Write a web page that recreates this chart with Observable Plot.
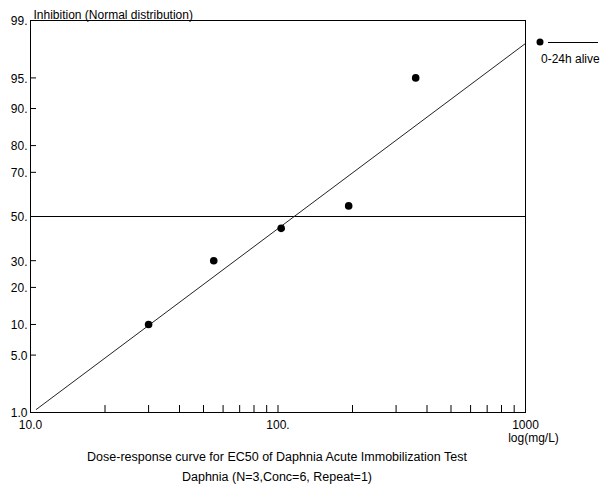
<!DOCTYPE html>
<html><head><meta charset="utf-8">
<script src="https://cdn.jsdelivr.net/npm/d3@7"></script>
<script src="https://cdn.jsdelivr.net/npm/@observablehq/plot@0.6"></script>
<style>
body{margin:0;background:#fff;font-family:"Liberation Sans",Arial,sans-serif;color:#000}
#wrap{position:relative;width:606px;height:486px;overflow:hidden}
#chart{position:absolute;left:0;top:0}
#caption{position:absolute;left:0;top:447px;width:554px;text-align:center;font-size:12.5px;line-height:20px}
#legend{position:absolute;left:530px;top:30px;width:76px;height:45px}
</style></head><body>
<div id="wrap">
  <div id="chart"></div>
  <div id="legend">
    <svg width="76" height="45" style="position:absolute;left:0;top:0">
      <circle cx="10" cy="12" r="3.5" fill="#000"></circle>
      <line x1="18" x2="68" y1="12.5" y2="12.5" stroke="#000" stroke-width="1"></line>
    </svg>
    <div style="position:absolute;left:11px;top:22px;font-size:12px;white-space:nowrap;color:#000">0-24h alive</div>
  </div>
  <div id="caption">Dose-response curve for EC50 of Daphnia Acute Immobilization Test<br>Daphnia (N=3,Conc=6, Repeat=1)</div>
</div>
<script>
// ---- data ----
const conc = [30, 55, 103, 193, 360];
const inhibition = [10, 30, 44.4, 55, 95];
const fitConc = [10.55, 1000];
const fitInhibition = [1.1, 98.0];
const refInhibition = [50];
const yTickValues = [1, 5, 10, 20, 30, 50, 70, 80, 90, 95, 99];
const yTickLabels = ["1.0", "5.0", "10.", "20.", "30.", "50.", "70.", "80.", "90.", "95.", "99."];
const yMarkValues = [5, 10, 20, 30, 70, 80, 90, 95];
const xMarkValues = [20, 30, 40, 50, 60, 70, 80, 90, 100, 200, 300, 400, 500, 600, 700, 800, 900];
const xLabelValues = [10, 100, 1000];
const xLabels = ["10.0", "100.", "1000"];
const seriesName = "0-24h alive";

// inverse normal CDF (percent in, z out)
function probit(pct) {
  const p = pct / 100;
  const a = [-3.969683028665376e+01, 2.209460984245205e+02, -2.759285104469687e+02, 1.383577518672690e+02, -3.066479806614716e+01, 2.506628277459239e+00];
  const b = [-5.447609879822406e+01, 1.615858368580409e+02, -1.556989798598866e+02, 6.680131188771972e+01, -1.328068155288572e+01];
  const c = [-7.784894002430293e-03, -3.223964580411365e-01, -2.400758277161838e+00, -2.549732539343734e+00, 4.374664141464968e+00, 2.938163982698783e+00];
  const d = [7.784695709041462e-03, 3.224671290700398e-01, 2.445134137142996e+00, 3.754408661907416e+00];
  const pl = 0.02425, ph = 1 - pl;
  let q, r;
  if (p < pl) {
    q = Math.sqrt(-2 * Math.log(p));
    return (((((c[0]*q+c[1])*q+c[2])*q+c[3])*q+c[4])*q+c[5]) / ((((d[0]*q+d[1])*q+d[2])*q+d[3])*q+1);
  }
  if (p > ph) {
    q = Math.sqrt(-2 * Math.log(1 - p));
    return -(((((c[0]*q+c[1])*q+c[2])*q+c[3])*q+c[4])*q+c[5]) / ((((d[0]*q+d[1])*q+d[2])*q+d[3])*q+1);
  }
  q = p - 0.5; r = q * q;
  return (((((a[0]*r+a[1])*r+a[2])*r+a[3])*r+a[4])*r+a[5])*q / (((((b[0]*r+b[1])*r+b[2])*r+b[3])*r+b[4])*r+1);
}

const points = conc.map((x, i) => ({conc: x, pct: inhibition[i], series: seriesName}));
const fit = fitConc.map((x, i) => ({conc: x, pct: fitInhibition[i]}));
const yLabelMap = new Map(yTickValues.map((v, i) => [probit(v), yTickLabels[i]]));
const xLabelMap = new Map(xLabelValues.map((v, i) => [v, xLabels[i]]));

const chart = Plot.plot({
  width: 606,
  height: 446,
  marginLeft: 30,
  marginRight: 81,
  marginTop: 20,
  marginBottom: 34,
  style: {fontFamily: "'Liberation Sans', Arial, sans-serif", fontSize: "12px", color: "#000", background: "transparent"},
  x: {type: "log", domain: [10, 1000], label: null},
  y: {type: "linear", domain: [probit(1), probit(99)], label: null},
  marks: [
    Plot.ruleY(refInhibition.map(probit), {stroke: "#000", strokeWidth: 1}),
    Plot.line(fit, {x: "conc", y: d => probit(d.pct), stroke: "#222", strokeWidth: 1}),
    Plot.dot(points, {x: "conc", y: d => probit(d.pct), r: 3.8, fill: "#000", stroke: null}),
    Plot.axisX(xMarkValues, {tickSize: -7, tickFormat: () => "", stroke: "#000", label: null}),
    Plot.axisX(xLabelValues, {tickSize: 0, tickPadding: 8, tickFormat: d => xLabelMap.get(d), label: null, fill: "#000"}),
    Plot.axisY(yMarkValues.map(probit), {tickSize: -6, tickFormat: () => "", stroke: "#000", label: null}),
    Plot.axisY(yTickValues.map(probit), {tickSize: 0, tickPadding: 3, tickFormat: d => yLabelMap.get(d), label: null, fill: "#000", dy: 1}),
    Plot.text(["Inhibition (Normal distribution)"], {frameAnchor: "top-left", dx: 3, dy: -10, textAnchor: "start", fill: "#000"}),
    Plot.text(["log(mg/L)"], {frameAnchor: "bottom-right", dx: 8, dy: 29, textAnchor: "middle", fill: "#000"}),
    Plot.frame({stroke: "#000", strokeWidth: 1})
  ]
});
document.getElementById("chart").appendChild(chart);
</script>
</body></html>
